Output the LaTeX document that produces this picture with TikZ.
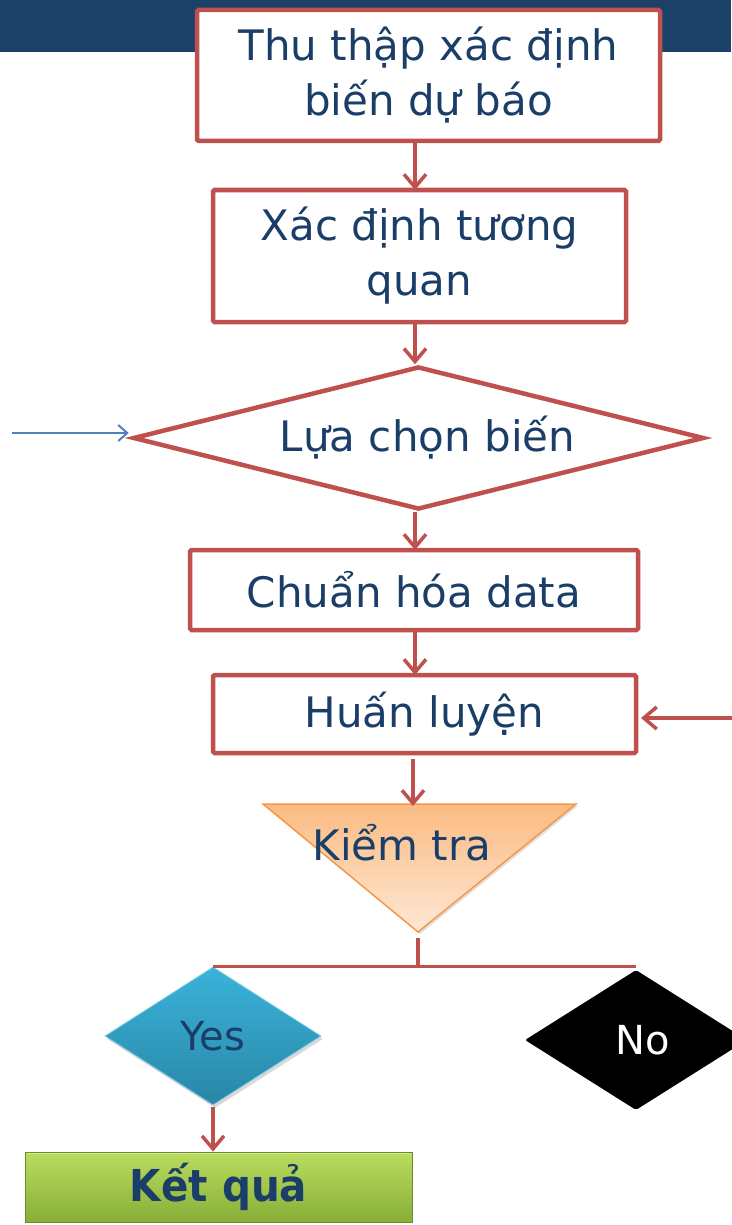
\documentclass[tikz,border=0pt]{standalone}
\usepackage{fontspec}
\usepackage{graphicx}
\setmainfont{DejaVu Sans}
\usetikzlibrary{shapes.geometric,arrows.meta,shadows}

\definecolor{ink}{HTML}{1B3E69}
\definecolor{flow}{HTML}{C0504D}
\definecolor{band}{HTML}{1B4168}
\definecolor{feed}{HTML}{4F81BD}
\definecolor{tritop}{HTML}{FBBB82}
\definecolor{tribot}{HTML}{FEE8D6}
\definecolor{triedge}{HTML}{F79646}
\definecolor{yestop}{HTML}{3AB3DA}
\definecolor{yesbot}{HTML}{2986A6}
\definecolor{restop}{HTML}{BADD5F}
\definecolor{resbot}{HTML}{88AE38}

\begin{document}
\begin{tikzpicture}[x=1pt,y=-1pt,
  txt/.style={text=ink,font=\fontsize{42}{55}\selectfont,align=center},
  stepbox/.style={txt,draw=flow,line width=4.5pt,fill=white,rounded corners=1.5pt,
    inner sep=0pt,outer sep=0pt},
  link/.style={draw=flow,line width=3.5pt,
    -{Straight Barb[length=13pt,width=22pt]}},
  feedlink/.style={draw=feed,line width=2pt,
    -{Straight Barb[length=9pt,width=16pt]}},
]
\useasboundingbox (0,0) rectangle (731,1225);

% header band
\fill[band] (0,0) rectangle (731,52);

% main column
\node[stepbox,minimum width=463pt,minimum height=131pt] (collect) at (428.5,75.5)
  {Thu thập xác định\\biến dự báo};
\node[stepbox,minimum width=413pt,minimum height=132pt] (corr) at (419.5,256)
  {Xác định tương\\quan};
\node[txt,diamond,draw=flow,line width=4.5pt,fill=white,shape aspect=4,
  minimum width=571pt,minimum height=143pt,inner sep=0pt] (select) at (418.5,438)
  {\hspace*{18pt}\raisebox{-3pt}{Lựa chọn biến}};
\node[stepbox,minimum width=448pt,minimum height=80pt] (norm) at (414,590)
  {Chuẩn hóa data};
\node[stepbox,minimum width=423pt,minimum height=78pt] (train) at (424.5,714)
  {Huấn luyện};

% test triangle
\coordinate (tl) at (263,804);
\coordinate (tr) at (576,804);
\coordinate (tb) at (418,932);
\shade[top color=tritop,bottom color=tribot,draw=triedge,line width=1.5pt,
  drop shadow={opacity=0.25,shadow xshift=2pt,shadow yshift=-2pt}]
  (tl) -- (tr) -- (tb) -- cycle;
\node[txt] (check) at (402,843) {Kiểm tra};

% outcomes
\node[diamond,shape aspect=1.5,minimum width=216pt,minimum height=138pt,inner sep=0pt,
  top color=yestop,bottom color=yesbot,draw=yestop!70!white,line width=0.8pt,
  text=ink,font=\fontsize{40}{40}\selectfont,
  drop shadow={opacity=0.3,shadow xshift=2pt,shadow yshift=-3pt}] (yes) at (213,1036) {Yes};
\node[diamond,shape aspect=1.5,minimum width=222pt,minimum height=140pt,inner sep=0pt,
  fill=black,rounded corners=2pt,text=white,font=\fontsize{40}{40}\selectfont] (no) at (636,1040) {\hspace*{14pt}No};

\node[minimum width=387pt,minimum height=70pt,inner sep=0pt,
  top color=restop,bottom color=resbot,draw=resbot!80!black,line width=0.8pt,
  text=ink,font=\fontsize{44}{50}\selectfont\bfseries] (result) at (218.5,1187)
  {\scalebox{0.92}[1]{Kết quả}};
\draw[white,opacity=0.35,line width=1.5pt]
  ([xshift=2pt,yshift=-2pt]result.north west) -- ([xshift=-2pt,yshift=-2pt]result.north east);

% connectors
\coordinate (spine) at (415,0);
\draw[link] (collect.south -| spine) -- (corr.north -| spine);
\draw[link] (corr.south -| spine) -- (select.north -| spine);
\draw[link] (select.south -| spine) -- (norm.north -| spine);
\draw[link] (norm.south -| spine) -- (train.north -| spine);
\coordinate (tri-in) at (413,806);
\draw[link] ([yshift=-6pt]train.south -| tri-in) -- (tri-in);

\coordinate (split) at (418,967);
\draw[flow,line width=3.5pt] ([yshift=-6pt]tb) -- (split);
\draw[flow,line width=3.5pt] (yes.north) -- (yes.north -| no.north);
\draw[link] ([yshift=-2pt]yes.south) -- (result.north -| yes.south);

\coordinate (feed-in) at (12,433);
\draw[feedlink] (feed-in) -- ([xshift=-2pt]select.west |- feed-in);
\coordinate (retrain) at (740,718);
\draw[link] (retrain) -- ([xshift=5pt]train.east |- retrain);
\end{tikzpicture}
\end{document}
